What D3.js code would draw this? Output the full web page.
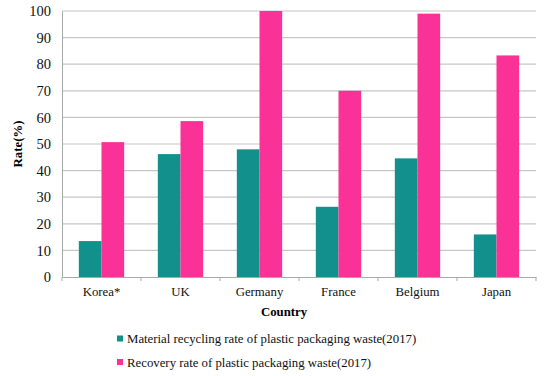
<!DOCTYPE html>
<html>
<head>
<meta charset="utf-8">
<script src="https://cdn.jsdelivr.net/npm/d3@7"></script>
<style>
  body { margin: 0; background: #fff; }
  svg text { font-family: "Liberation Serif", "Times New Roman", serif !important; }
</style>
</head>
<body>
<div id="chart"></div>
<script>
// values
let countries = ["Korea*", "UK", "Germany", "France", "Belgium", "Japan"];
let recycling = [13.5, 46.2, 48.0, 26.4, 44.6, 16.0];
let recovery = [50.7, 58.6, 100, 70.0, 99.0, 83.3];
let seriesNames = ["Material recycling rate of plastic packaging waste(2017)",
                   "Recovery rate of plastic packaging waste(2017)"];
let colors = ["#12908c", "#fa3197"];
let yTicks = [0, 10, 20, 30, 40, 50, 60, 70, 80, 90, 100];

let width = 549, height = 376;
let margin = {top: 11, right: 13, bottom: 99, left: 62};
let width_ = width - margin.left - margin.right;
let height_ = height - margin.top - margin.bottom;

let svg = d3.select("#chart").append("svg")
            .attr("width", width)
            .attr("height", height);

let g = svg.append("g")
           .attr("transform", "translate(" + margin.left + "," + margin.top + ")");

let x = d3.scaleBand().domain(countries).range([0, width_]).paddingInner(0).paddingOuter(0);
let y = d3.scaleLinear().domain([0, 100]).range([height_, 0]);

let groupW = x.bandwidth() * 0.574;
let x1 = d3.scaleBand().domain([0, 1]).range([0, groupW]);

// gridlines
g.append("g").selectAll("line")
  .data(yTicks.filter(d => d > 0))
  .enter().append("line")
  .attr("x1", 0).attr("x2", width_)
  .attr("y1", d => y(d)).attr("y2", d => y(d))
  .attr("stroke", "#c6c6c6").attr("stroke-width", 1.2);

// bars
let rows = countries.map((c, i) => ({country: c, vals: [recycling[i], recovery[i]]}));
let groups = g.append("g").selectAll("g")
  .data(rows).enter().append("g")
  .attr("transform", d => "translate(" + (x(d.country) + (x.bandwidth() - groupW) / 2) + ",0)");

groups.selectAll("rect")
  .data(d => d.vals.map((v, k) => ({k: k, v: v})))
  .enter().append("rect")
  .attr("x", d => x1(d.k))
  .attr("width", x1.bandwidth())
  .attr("y", d => y(d.v))
  .attr("height", d => height_ - y(d.v))
  .attr("fill", d => colors[d.k]);

// y axis
let yAxis = g.append("g")
  .call(d3.axisLeft(y).tickValues(yTicks).tickSize(0).tickPadding(11));
yAxis.select(".domain").attr("stroke", "#a9a9a9");
yAxis.selectAll("text")
  .attr("font-size", "14.5px").attr("fill", "#111");

// x axis
let xAxis = g.append("g")
  .attr("transform", "translate(0," + height_ + ")")
  .call(d3.axisBottom(x).tickSize(0).tickPadding(10));
xAxis.select(".domain").attr("stroke", "#a9a9a9");
xAxis.selectAll("text")
  .attr("font-size", "12.8px").attr("fill", "#111");

// small tick marks between groups
g.append("g").selectAll("line")
  .data(d3.range(countries.length + 1))
  .enter().append("line")
  .attr("x1", d => d * x.step()).attr("x2", d => d * x.step())
  .attr("y1", height_).attr("y2", height_ + 4)
  .attr("stroke", "#a9a9a9");

// axis titles
svg.append("text")
  .attr("transform", "translate(22," + (margin.top + height_ / 2) + ") rotate(-90)")
  .attr("text-anchor", "middle")
  .attr("font-weight", "bold").attr("font-size", "12.8px")
  .text("Rate(%)");

svg.append("text")
  .attr("x", 284)
  .attr("y", 316)
  .attr("text-anchor", "middle")
  .attr("font-weight", "bold").attr("font-size", "12.8px")
  .text("Country");

// legend
let legend = svg.append("g").selectAll("g")
  .data(seriesNames).enter().append("g")
  .attr("transform", (d, i) => "translate(117," + (343 + i * 23.5) + ")");
legend.append("rect")
  .attr("x", 0).attr("y", -7.5).attr("width", 6).attr("height", 6)
  .attr("fill", (d, i) => colors[i]);
legend.append("text")
  .attr("x", 10).attr("y", 0)
  .attr("font-size", "12.8px").attr("fill", "#111")
  .text(d => d);
</script>
</body>
</html>
